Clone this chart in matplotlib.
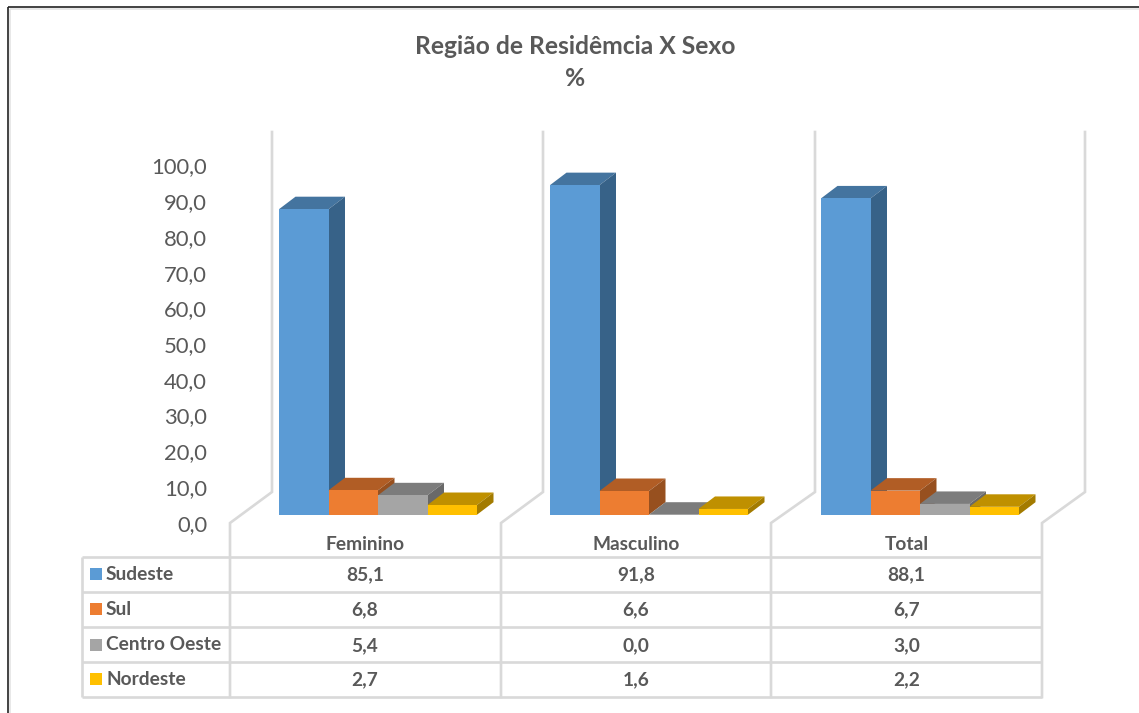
import matplotlib
matplotlib.use("Agg")
import matplotlib.pyplot as plt
from matplotlib.patches import Polygon, Rectangle

# --- Data ---
groups = ['Feminino', 'Masculino', 'Total']
regions = ['Sudeste', 'Sul', 'Centro Oeste', 'Nordeste']
sudeste = [85.1, 91.8, 88.1]
sul = [6.8, 6.6, 6.7]
centro_oeste = [5.4, 0.0, 3.0]
nordeste = [2.7, 1.6, 2.2]
y_ticks = [0, 10, 20, 30, 40, 50, 60, 70, 80, 90, 100]

# --- Style ---
W, H = 1139, 713
TEXT = '#595959'
GRID = '#D9D9D9'
FONT = 'Lato'
FRONT = ['#5B9BD5', '#ED7D31', '#A5A5A5', '#FFC000']
TOP = ['#44749F', '#B15D25', '#7C7C7C', '#BF9000']
SIDE = ['#376288', '#97501F', '#696969', '#A37B00']
PITCH = 271.0       # px per group
UNIT = 3.59         # px per percent point
BAR_W = 49.5 / PITCH
BAR_START = 49.0 / PITCH
DX = 16.5 / PITCH
DY = 12.5 / UNIT

plt.rcParams['font.family'] = [FONT, 'DejaVu Sans']

fig = plt.figure(figsize=(W / 100, H / 100), dpi=100, facecolor='white')

# overlay in pixel coords for the frame, walls and data table
px = fig.add_axes([0, 0, 1, 1])
px.set_xlim(0, W)
px.set_ylim(H, 0)
px.axis('off')

# bars: x in groups, y in percent
ax = fig.add_axes([0, 0, 1, 1])
ax.set_xlim(-230 / PITCH, (W - 230) / PITCH)
ax.set_ylim(-(H - 514.7) / UNIT, 514.7 / UNIT)
ax.axis('off')
ax.patch.set_visible(False)

# value axis, 0 on the floor edge and 100 at the top tick
tick_ax = fig.add_axes([230 / W, (H - 522.7) / H, 1 / W, (522.7 - 165.5) / H])
tick_ax.set_ylim(0, 100)
tick_ax.set_yticks(y_ticks)
tick_ax.set_yticklabels([f'{t:.1f}'.replace('.', ',') for t in y_ticks],
                        fontsize=15.8, color=TEXT, family=FONT)
tick_ax.tick_params(axis='y', length=0, pad=16.5)
tick_ax.set_xticks([])
tick_ax.patch.set_visible(False)
for spine in tick_ax.spines.values():
    spine.set_visible(False)

# frame
px.plot([7.5, 7.5], [713, 6.5], color='#222222', lw=1.2, solid_capstyle='butt')
px.plot([7.5, 1139], [6.5, 6.5], color='#222222', lw=1.2, solid_capstyle='butt')
px.plot([9.5, 9.5], [713, 8.5], color='#E4E4E4', lw=1.2, solid_capstyle='butt')
px.plot([9.5, 1139], [8.5, 8.5], color='#E4E4E4', lw=1.2, solid_capstyle='butt')

# walls and floor edges
wall_x = [272, 543, 815, 1085]
floor_x = [230, 501, 771, 1042]
for wx, fx in zip(wall_x, floor_x):
    px.plot([wx, wx, fx, fx], [132, 492, 523, 697], color=GRID, lw=1.9,
            solid_joinstyle='miter')

# table lines
for ty in [557, 592, 627, 662, 697]:
    px.plot([82, 1042], [ty, ty], color=GRID, lw=1.9, solid_capstyle='butt')
px.plot([82, 82], [557, 697], color=GRID, lw=1.9, solid_capstyle='butt')

# bars, left to right so each front covers its neighbour's side
series = [sudeste, sul, centro_oeste, nordeste]
for g in range(len(groups)):
    for k, values in enumerate(series):
        v = values[g]
        x0 = g + BAR_START + k * BAR_W
        x1 = x0 + BAR_W
        ax.add_patch(Polygon([(x0, v), (x0 + DX, v + DY), (x1 + DX, v + DY), (x1, v)],
                             facecolor=TOP[k], edgecolor='none', zorder=3 + g * 4 + k))
        ax.add_patch(Polygon([(x1, 0), (x1 + DX, DY), (x1 + DX, v + DY), (x1, v)],
                             facecolor=SIDE[k], edgecolor='none', zorder=3 + g * 4 + k))
        ax.bar(x0, v, width=BAR_W, align='edge', color=FRONT[k], linewidth=0,
               zorder=3 + g * 4 + k)

# title
px.text(575.5, 47, 'Região de Residêmcia X Sexo', ha='center', va='center',
        fontsize=17.7, fontweight='bold', color=TEXT)
px.text(575.5, 79, '%', ha='center', va='center', fontsize=17.7, fontweight='bold', color=TEXT)

# data table text
col_x = [365, 636, 906.5]
row_y = [574, 609, 644.5, 679]
for cx, name in zip(col_x, groups):
    px.text(cx, 545, name, ha='center', va='center', fontsize=13.8, fontweight='bold', color=TEXT)
for k, (ry, name, values) in enumerate(zip(row_y, regions, series)):
    px.add_patch(Rectangle((90, ry - 6), 12, 12, facecolor=FRONT[k], edgecolor='none'))
    px.text(106, ry + 0.5, name, ha='left', va='center', fontsize=13.8, fontweight='bold', color=TEXT)
    for cx, v in zip(col_x, values):
        px.text(cx, ry + 1, f'{v:.1f}'.replace('.', ','), ha='center', va='center',
                fontsize=13.8, fontweight='bold', color=TEXT)

fig.savefig('out.png', dpi=100, facecolor='white')
